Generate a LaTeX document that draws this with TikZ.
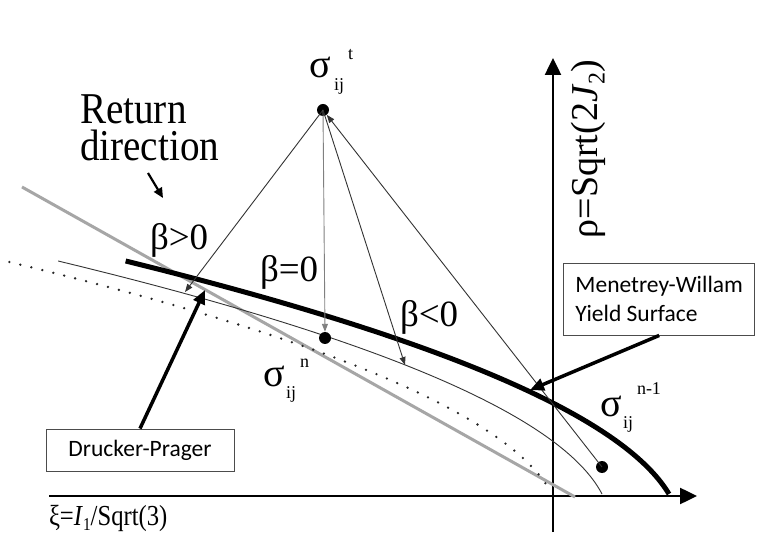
\documentclass[tikz,border=0pt]{standalone}
\usepackage{fontspec}
\setmainfont{Liberation Serif}
\newfontfamily\calib{Carlito}
\usepackage{graphicx}
\usetikzlibrary{arrows.meta}
\begin{document}
\begin{tikzpicture}[x=1pt,y=-1pt,
  thinln/.style={line width=0.9pt, black!80},
  tipS/.style={-{Triangle[length=8pt,width=6pt]}},
  dotn/.style={circle, fill=black, inner sep=0pt, minimum size=12pt},
  lbl/.style={inner sep=0pt, outer sep=0pt, anchor=base west},
  big/.style={lbl, font=\fontsize{37}{40}\selectfont},
  sig/.style={lbl, font=\fontsize{40}{40}\selectfont},
  small/.style={lbl, font=\fontsize{18}{18}\selectfont},
  boxn/.style={draw=black!70, line width=0.9pt, font=\calib\fontsize{23.5}{29}\selectfont, inner sep=0pt},
  callout/.style={line width=3.5pt, -{Triangle[length=14pt,width=12pt]}}
]
\useasboundingbox (0,0) rectangle (761,545);
\fill[white] (0,0) rectangle (761,545);

% axes
\coordinate (xo) at (49,496);
\coordinate (xe) at (697,496);
\coordinate (yo) at (553,532);
\coordinate (ye) at (553,58);
\draw[line width=2.5pt, -{Triangle[length=17pt,width=16pt]}] (xo) -- (xe);
\draw[line width=2.5pt, -{Triangle[length=17pt,width=16pt]}] (yo) -- (ye);

% Drucker-Prager line
\coordinate (dpa) at (22,187);
\coordinate (dpb) at (575,497);
\draw[line width=3pt, gray!70] (dpa) -- (dpb);

% dotted curve
\draw[line width=2.6pt, line cap=round, dash pattern=on 0pt off 11.3pt, black!85]
  plot[domain=232:9, samples=80, variable=\h] ({552-0.0078*\h*\h-0.53*\h},{494-\h});

% thin curve
\draw[line width=0.9pt, black!80]
  plot[domain=233:0, samples=80, variable=\h] ({602-0.00778*\h*\h-0.521*\h},{494-\h});

% thick yield surface
\draw[line width=5pt]
  plot[domain=233:0, samples=80, variable=\h] ({669-0.007426*\h*\h-0.6005*\h},{494-\h});

% stress points
\node[dotn] (st) at (323,110) {};
\node[dotn] (sn) at (325,338) {};
\node[dotn] (snm) at (602,467) {};

% return lines
\coordinate (bp) at (185,292);
\coordinate (bm) at (405,365);
\draw[thinln, tipS] (st.center) -- (bp);
\draw[thinln, gray, tipS] (st.center) -- (sn.north);
\draw[thinln, tipS] (st.center) -- (bm);
\draw[thinln, tipS] (snm.center) -- (st);

% labels
\node[inner sep=0pt, outer sep=0pt, anchor=north west, align=left,
      font=\fontsize{44}{37}\selectfont] (ret) at (80,95)
  {\scalebox{0.89}[1]{Return}\\\scalebox{0.89}[1]{direction}};
\coordinate (ra) at (148,173);
\coordinate (rb) at (163,198);
\draw[line width=2.2pt, -{Triangle[length=10pt,width=9pt]}] (ra) -- (rb);

\node[big] (bpos) at (150,250) {β>0};
\node[big] (bzero) at (260,282) {β=0};
\node[big] (bneg) at (400,327) {β<0};

\node[sig] (lt) at (309,78) {σ};
\node[small] (ltij) at (334,91) {ij};
\node[small] (ltt) at (348,60) {t};

\node[sig] (ln) at (263,387) {σ};
\node[small] (lnij) at (286,399) {ij};
\node[small] (lnn) at (300,368) {n};

\node[sig] (lnm) at (600,417) {σ};
\node[small] (lnmij) at (623,429) {ij};
\node[small] (lnmn) at (637,395) {n-1};

\node[lbl, font=\fontsize{29}{30}\selectfont] (xl) at (49,525)
  {\scalebox{0.85}[1]{ξ=\textit{I}\raisebox{-0.2em}{\fontsize{18}{18}\selectfont 1}/Sqrt(3)}};
\node[inner sep=0pt, rotate=90, font=\fontsize{38}{40}\selectfont] (yl) at (588,149)
  {ρ=Sqrt(2\textit{J}\raisebox{-0.2em}{\fontsize{24}{24}\selectfont 2})};

% callout boxes
\node[boxn, minimum width=188pt, minimum height=42pt] (dp) at (140,450) {Drucker-Prager};
\coordinate (dptip) at (205,290);
\draw[callout] (dp.north) -- (dptip);

\node[boxn, anchor=west, inner xsep=12pt, minimum height=72pt, align=left] (mw) at (563,299) {Menetrey-Willam\\Yield Surface};
\coordinate (mwtip) at (530,390);
\draw[callout] (mw.south) -- (mwtip);
\end{tikzpicture}
\end{document}
